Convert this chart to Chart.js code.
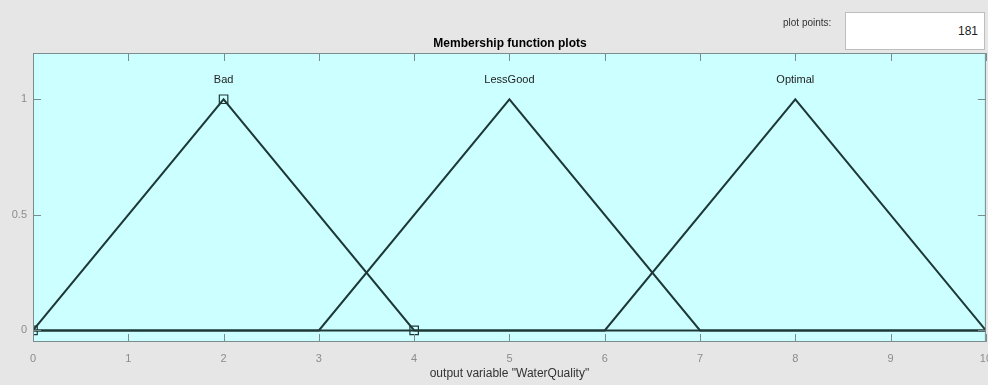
<!DOCTYPE html>
<html>
<head>
<meta charset="utf-8">
<script src="https://cdn.jsdelivr.net/npm/chart.js@4"></script>
<style>
  body { margin: 0; background: #e6e6e6; font-family: "Liberation Sans", Arial, sans-serif; overflow: hidden; }
  #wrap { position: relative; width: 988px; height: 385px; overflow: hidden; }
  #pp { position: absolute; left: 783px; top: 17px; font-size: 10px; color: #333; }
  #ppbox { position: absolute; left: 845px; top: 12px; width: 140px; height: 38px; background: #fff;
           border: 1px solid #bdbdbd; box-sizing: border-box; font-size: 12px; color: #222;
           text-align: right; padding: 11px 6px 0 0; }
</style>
</head>
<body>
<div id="wrap">
  <canvas id="mf" width="994" height="385"></canvas>
  <div id="pp">plot points:</div>
  <div id="ppbox">181</div>
</div>
<script>
const mfNames = ["Bad", "LessGood", "Optimal"];
const mfParams = [[0, 2, 4], [3, 5, 7], [6, 8, 10]];
const xRange = [0, 10];
const xTicks = [0, 1, 2, 3, 4, 5, 6, 7, 8, 9, 10];
const yTicks = [0, 0.5, 1];
const selected = 0;

const lineColor = "#1e3838";
const fontFam = "'Liberation Sans', Arial, sans-serif";

const datasets = mfParams.map((p, i) => ({
    label: mfNames[i],
    data: [
        {x: xRange[0], y: 0},
        {x: p[0], y: 0},
        {x: p[1], y: 1},
        {x: p[2], y: 0},
        {x: xRange[1], y: 0}
    ],
    borderColor: lineColor,
    borderWidth: 2,
    pointRadius: 0,
    fill: false,
    tension: 0
}));

datasets.push({
    label: "sel",
    data: [
        {x: mfParams[selected][0], y: 0},
        {x: mfParams[selected][1], y: 1},
        {x: mfParams[selected][2], y: 0}
    ],
    showLine: false,
    pointStyle: "rect",
    pointRadius: 6,
    pointBorderColor: lineColor,
    pointBorderWidth: 1.2,
    pointBackgroundColor: "rgba(0,0,0,0)"
});

const decor = {
    id: "decor",
    beforeDraw(chart) {
        const {ctx, chartArea: a} = chart;
        ctx.save();
        ctx.fillStyle = "#ccffff";
        ctx.fillRect(a.left, a.top, a.right - a.left, a.bottom - a.top);
        ctx.restore();
    },
    afterDraw(chart) {
        const {ctx, chartArea: a, scales: {x, y}} = chart;
        ctx.save();
        ctx.strokeStyle = "#7a8c8c";
        ctx.lineWidth = 1;
        ctx.strokeRect(a.left + 0.5, a.top + 0.5, a.right - a.left - 1, a.bottom - a.top - 1);
        ctx.beginPath();
        xTicks.forEach(v => {
            const px = Math.round(x.getPixelForValue(v)) + 0.5;
            ctx.moveTo(px, a.bottom); ctx.lineTo(px, a.bottom - 8);
            ctx.moveTo(px, a.top); ctx.lineTo(px, a.top + 8);
        });
        yTicks.forEach(v => {
            const py = Math.round(y.getPixelForValue(v)) + 0.5;
            ctx.moveTo(a.left, py); ctx.lineTo(a.left + 8, py);
            ctx.moveTo(a.right, py); ctx.lineTo(a.right - 8, py);
        });
        ctx.stroke();

        // mf names above peaks
        ctx.fillStyle = "#222";
        ctx.font = "11px " + fontFam;
        ctx.textAlign = "center";
        ctx.textBaseline = "middle";
        mfParams.forEach((p, i) => {
            ctx.fillText(mfNames[i], x.getPixelForValue(p[1]), y.getPixelForValue(1.085));
        });

        // title
        ctx.fillStyle = "#000";
        ctx.font = "bold 12px " + fontFam;
        ctx.fillText("Membership function plots", 510, 44);
        ctx.restore();
    }
};

new Chart(document.getElementById("mf"), {
    type: "line",
    data: { datasets: datasets },
    plugins: [decor],
    options: {
        responsive: false,
        animation: false,
        layout: { padding: { top: 53, right: 0, left: 0, bottom: 0 } },
        plugins: { legend: { display: false }, tooltip: { enabled: false } },
        scales: {
            x: {
                type: "linear",
                min: xRange[0],
                max: xRange[1],
                afterBuildTicks: s => { s.ticks = xTicks.map(v => ({value: v})); },
                afterFit: s => { s.height = 43; },
                grid: { display: false },
                border: { display: false },
                ticks: { color: "#8c8c8c", padding: 2, maxRotation: 0,
                         font: { family: fontFam, size: 11 } },
                title: { display: true, text: 'output variable "WaterQuality"', color: "#333",
                         padding: { top: 0, bottom: 4 },
                         font: { family: fontFam, size: 12 } }
            },
            y: {
                type: "linear",
                min: -0.05,
                max: 1.2,
                afterBuildTicks: s => { s.ticks = yTicks.map(v => ({value: v})); },
                afterFit: s => { s.width = 33; },
                grid: { display: false, tickLength: 0 },
                border: { display: false },
                ticks: { color: "#8c8c8c", padding: 6,
                         callback: v => String(v),
                         font: { family: fontFam, size: 11 } }
            }
        }
    }
});
</script>
</body>
</html>
